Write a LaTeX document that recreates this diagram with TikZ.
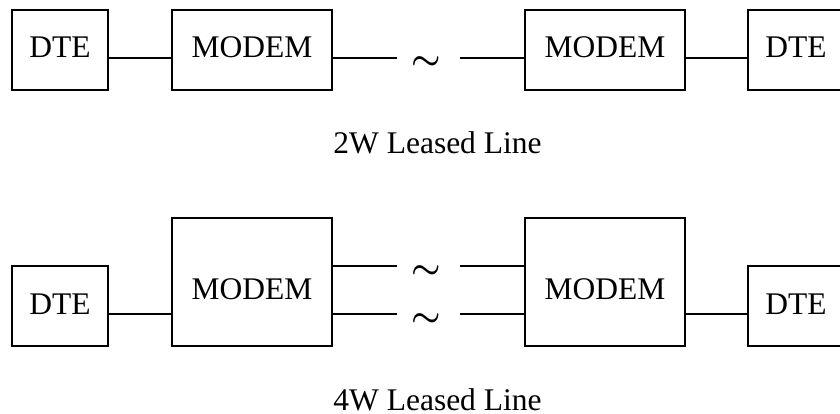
\documentclass[tikz,border=0pt]{standalone}
\usepackage{amsmath}
\usepackage{fontspec}
\usepackage{graphicx}
\setmainfont{Liberation Serif}
\begin{document}
\begin{tikzpicture}[x=1pt,y=-1pt,
  box/.style={draw,line width=2pt,inner sep=0pt,font=\fontsize{31.5}{36}\selectfont,
     text height=16pt,text depth=0pt},
  lowtext/.style={text height=34.5pt},
  wire/.style={line width=2pt},
  tilde/.style={inner sep=0pt},
  caption/.style={anchor=base,inner sep=0pt,text depth=0pt,font=\fontsize{31.5}{36}\selectfont}]
\useasboundingbox (0,0) rectangle (840,414);
% top row (2W)
\node[box,minimum width=96pt,minimum height=80pt] (d1) at (60,50) {DTE};
\node[box,minimum width=160pt,minimum height=80pt] (m1) at (252,50) {MODEM};
\node[box,minimum width=160pt,minimum height=80pt] (m2) at (605,50) {MODEM};
\node[box,minimum width=96pt,minimum height=80pt] (d2) at (796,50) {DTE};
\coordinate (a1) at (397,58);
\coordinate (b1) at (460,58);
\node[tilde] (t1) at (426.5,63) {\scalebox{3.3}{$\boldsymbol{\sim}$}};
\draw[wire] ([yshift=-8pt]d1.east) -- ([yshift=-8pt]m1.west);
\draw[wire] ([yshift=-8pt]m1.east) -- (a1);
\draw[wire] (b1) -- ([yshift=-8pt]m2.west);
\draw[wire] ([yshift=-8pt]m2.east) -- ([yshift=-8pt]d2.west);
\node[caption] (c1) at (437.5,154) {2W Leased Line};
% bottom row (4W)
\node[box,minimum width=96pt,minimum height=80pt] (d3) at (60,306) {DTE};
\node[box,lowtext,minimum width=160pt,minimum height=128pt] (m3) at (252,282) {MODEM};
\node[box,lowtext,minimum width=160pt,minimum height=128pt] (m4) at (605,282) {MODEM};
\node[box,minimum width=96pt,minimum height=80pt] (d4) at (796,306) {DTE};
\coordinate (a2) at (397,266);
\coordinate (b2) at (460,266);
\coordinate (a3) at (397,314);
\coordinate (b3) at (460,314);
\node[tilde] (t2) at (426.5,272) {\scalebox{3.3}{$\boldsymbol{\sim}$}};
\node[tilde] (t3) at (426.5,320) {\scalebox{3.3}{$\boldsymbol{\sim}$}};
\draw[wire] ([yshift=-8pt]d3.east) -- ([yshift=-32pt]m3.west);
\draw[wire] ([yshift=16pt]m3.east) -- (a2);
\draw[wire] ([yshift=-32pt]m3.east) -- (a3);
\draw[wire] (b2) -- ([yshift=16pt]m4.west);
\draw[wire] (b3) -- ([yshift=-32pt]m4.west);
\draw[wire] ([yshift=-32pt]m4.east) -- ([yshift=-8pt]d4.west);
\node[caption] (c2) at (437.5,410) {4W Leased Line};
\end{tikzpicture}
\end{document}
